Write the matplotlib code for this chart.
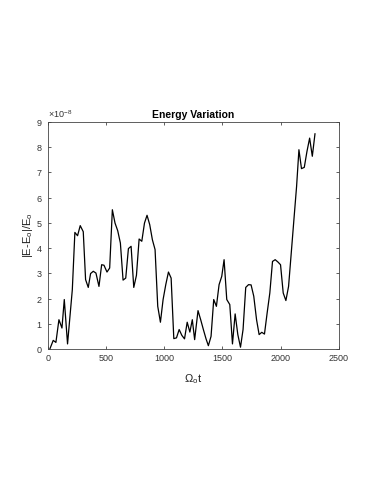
import matplotlib
matplotlib.use("Agg")
import matplotlib.pyplot as plt

# Omega_o * t samples and |E - E0| / E0 (units of 1e-8)
t_vals = [17, 46, 69, 95, 121, 141, 169, 210, 232, 255, 278, 304, 324, 347,
          367, 390, 413, 439, 462, 482, 508, 531, 554, 577, 600, 623, 646,
          669, 692, 715, 738, 761, 784, 807, 830, 852, 875, 898, 921, 944,
          967, 990, 1013, 1036, 1059, 1082, 1105, 1128, 1151, 1174, 1197,
          1220, 1241, 1261, 1290, 1313, 1336, 1359, 1379, 1402, 1425, 1448,
          1471, 1494, 1514, 1537, 1563, 1586, 1609, 1632, 1655, 1677, 1700,
          1724, 1746, 1769, 1793, 1815, 1838, 1861, 1884, 1907, 1930, 1953,
          1976, 1999, 2022, 2045, 2068, 2091, 2114, 2137, 2157, 2179, 2203,
          2226, 2249, 2272, 2295]
dE_vals = [0.0, 0.34, 0.26, 1.16, 0.83, 1.96, 0.2, 2.35, 4.62, 4.49, 4.89,
           4.65, 2.75, 2.44, 2.99, 3.08, 3.01, 2.48, 3.34, 3.32, 3.05, 3.21,
           5.52, 4.99, 4.69, 4.2, 2.73, 2.81, 3.98, 4.07, 2.44, 2.92, 4.36,
           4.27, 4.99, 5.3, 4.93, 4.33, 3.94, 1.69, 1.06, 1.96, 2.55, 3.05,
           2.81, 0.41, 0.44, 0.77, 0.54, 0.4, 1.06, 0.67, 1.16, 0.37, 1.52,
           1.16, 0.77, 0.4, 0.13, 0.5, 1.96, 1.69, 2.55, 2.88, 3.54, 1.96,
           1.76, 0.2, 1.39, 0.57, 0.07, 0.77, 2.44, 2.55, 2.54, 2.09, 1.16,
           0.57, 0.66, 0.59, 1.43, 2.22, 3.47, 3.54, 3.45, 3.34, 2.22, 1.92,
           2.48, 3.8, 5.13, 6.45, 7.9, 7.15, 7.2, 7.83, 8.36, 7.64, 8.53]

plt.rcParams["font.family"] = ["Liberation Sans", "DejaVu Sans"]
plt.rcParams["mathtext.default"] = "regular"

fig = plt.figure(figsize=(3.74, 4.84), dpi=100)
ax = fig.add_axes([0.128, 0.279, 0.778, 0.469])

ax.plot(t_vals, [v * 1e-8 for v in dE_vals], color="black", linewidth=0.9)

ax.set_xlim(0, 2500)
ax.set_ylim(0, 9e-8)
ax.set_xticks([0, 500, 1000, 1500, 2000, 2500])
ax.set_yticks([i * 1e-8 for i in range(10)])
ax.ticklabel_format(axis="y", style="sci", scilimits=(0, 0), useMathText=True)
ax.yaxis.get_offset_text().set_fontsize(6.5)
ax.yaxis.get_offset_text().set_color("#444444")

ax.tick_params(direction="in", top=True, right=True, length=2.5, width=0.6,
               labelsize=6.5, colors="#444444", labelcolor="#333333")
for s in ax.spines.values():
    s.set_linewidth(0.6)
    s.set_color("#444444")

ax.set_title("Energy Variation", fontsize=7.5, fontweight="bold", pad=3)
ax.set_xlabel(r"$\Omega_o$t", fontsize=8, color="#222222", labelpad=7)
ax.set_ylabel(r"|E-E$_o$|/E$_o$", fontsize=8, color="#222222", labelpad=1)

fig.savefig("out.png", dpi=100)
